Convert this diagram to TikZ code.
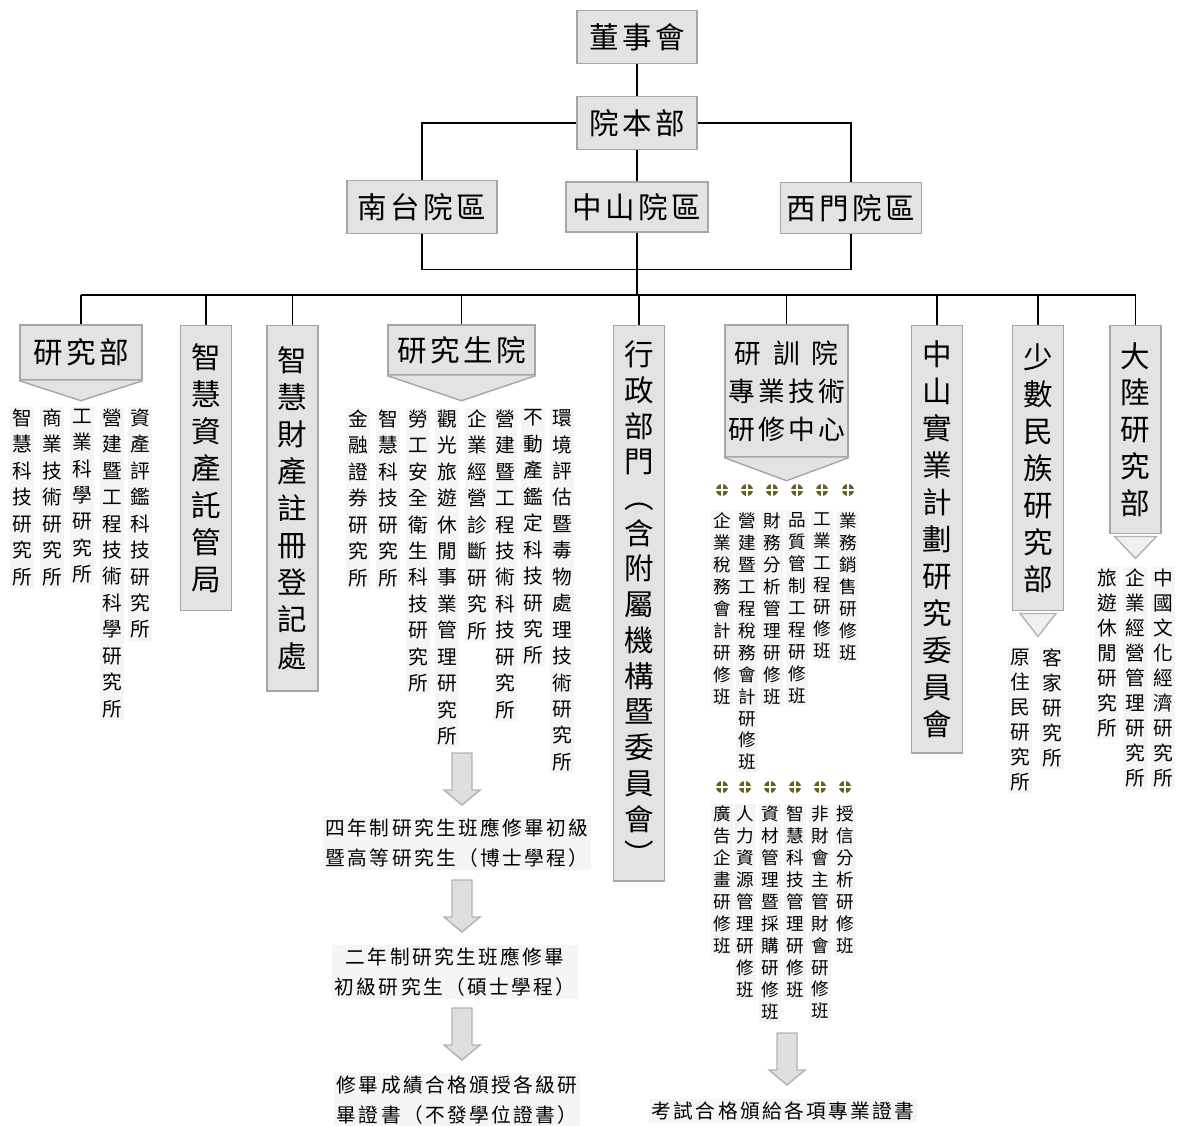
\documentclass[tikz,border=0pt]{standalone}
\usepackage{fontspec}
\setmainfont{Noto Sans CJK TC}[LetterSpace=12]
\usepackage{tikz}
\usetikzlibrary{calc}
\makeatletter
\newcommand\vtext[1]{\vt@first#1\relax}
\def\vt@first#1{#1\vt@next}
\def\vt@next#1{\ifx#1\relax\else\\#1\expandafter\vt@next\fi}
\makeatother
\newcommand{\grayarrow}[3]{\filldraw[garrow] (#1-10,#2) -- (#1+10,#2) -- (#1+10,#3-15) -- (#1+18,#3-15) -- (#1,#3) -- (#1-18,#3-15) -- (#1-10,#3-15) -- cycle;}
\tikzstyle{hbox} = [draw=gray!70, fill=gray!22, inner sep=0pt, font=\fontsize{21}{27}\selectfont]
\tikzstyle{vbox} = [draw=gray!70, fill=gray!22, inner sep=0pt, anchor=north, minimum width=1.27cm, align=center, font=\fontsize{21}{26.3}\selectfont]
\tikzstyle{col} = [fill=gray!8, inner sep=1.5pt, anchor=north, align=center, font=\fontsize{14}{18.8}\selectfont]
\tikzstyle{scol} = [col, font=\fontsize{12.5}{15.6}\selectfont]
\tikzstyle{mcol} = [col, font=\fontsize{14}{17.8}\selectfont]
\tikzstyle{flow} = [fill=gray!8, inner sep=2pt, align=center, font=\fontsize{14}{21}\selectfont]
\tikzstyle{chev} = [draw=gray!70, fill=gray!22]
\tikzstyle{tri} = [draw=gray!60, fill=gray!12]
\tikzstyle{garrow} = [draw=gray!60, fill=gray!25]
\tikzstyle{bullet} = [circle, fill=olive!65!black, inner sep=0pt, minimum size=0.3cm, path picture={\draw[white, line width=0.8pt] (path picture bounding box.north) -- (path picture bounding box.south) (path picture bounding box.west) -- (path picture bounding box.east);}]
\begin{document}
\begin{tikzpicture}[x=0.025cm, y=-0.025cm, line width=1pt]
\useasboundingbox (0,0) rectangle (1179,1126);
\node[hbox, minimum width=3cm, minimum height=1.33cm] (dsh) at (637,37) {董事會};
\node[hbox, minimum width=3cm, minimum height=1.33cm] (ybb) at (637,123) {院本部};
\node[hbox, minimum width=3.75cm, minimum height=1.33cm] (nt) at (422,207) {南台院區};
\node[hbox, minimum width=3.55cm, minimum height=1.25cm] (zs) at (637,207) {中山院區};
\node[hbox, minimum width=3.53cm, minimum height=1.28cm] (xm) at (851,208) {西門院區};
\draw (dsh) -- (ybb);
\draw (ybb) -- (zs);
\draw (ybb) -| (nt);
\draw (ybb) -| (xm);
\draw (nt.south) -- ++(0,35) -| (xm.south);

\node[hbox, minimum width=3.05cm, minimum height=1.375cm] (yjb) at (81,352.5) {研究部};
\filldraw[chev] (yjb.south west) -- ($(yjb.south)+(0,20)$) -- (yjb.south east);
\node[vbox, minimum height=7.125cm] (zhzc) at (206,325) {\vtext{智慧資產託管局}};
\node[vbox, minimum height=9.125cm] (zhcc) at (292.5,325) {\vtext{智慧財產註冊登記處}};
\node[hbox, minimum width=3.675cm, minimum height=1.25cm] (yjsy) at (461.5,350) {研究生院};
\filldraw[chev] (yjsy.south west) -- ($(yjsy.south)+(0,25)$) -- (yjsy.south east);
\node[vbox, minimum height=13.875cm, font=\fontsize{21}{25.4}\selectfont] (xz) at (639,325) {\vtext{行政部門︵含附屬機構暨委員會︶}};
\node[hbox, minimum width=3.075cm, minimum height=3.3cm, align=center, font=\fontsize{19}{27}\selectfont] (yxy) at (786.5,391) {\makebox[3.9em]{研\hfill 訓\hfill 院}\\專業技術\\研修中心};
\filldraw[chev] (yxy.south west) -- ($(yxy.south)+(0,23)$) -- (yxy.south east);
\node[vbox, minimum height=10.675cm] (zssy) at (937,325) {\vtext{中山實業計劃研究委員會}};
\node[vbox, minimum height=7.125cm] (ssmz) at (1038,325) {\vtext{少數民族研究部}};
\filldraw[tri] ($(ssmz.south)+(-18,2)$) -- ($(ssmz.south)+(18,2)$) -- ($(ssmz.south)+(0,25)$) -- cycle;
\node[vbox, minimum height=5.2cm] (dl) at (1135.5,325) {\vtext{大陸研究部}};
\filldraw[tri] ($(dl.south)+(-21,2)$) -- ($(dl.south)+(21,2)$) -- ($(dl.south)+(0,24)$) -- cycle;

\coordinate (bus) at (637,295);
\draw (zs.south) -- (zs.south |- bus);
\draw (yjb.north |- bus) -- (dl.north |- bus);
\foreach \n in {yjb,zhzc,zhcc,yjsy,xz,yxy,zssy,ssmz,dl}
  \draw (\n.north) -- (\n.north |- bus);

\node[col] (yjb1) at (140,406) {\vtext{資產評鑑科技研究所}};
\node[col] (yjb2) at (112,406) {\vtext{營建暨工程技術科學研究所}};
\node[col] (yjb3) at (82,406) {\vtext{工業科學研究所}};
\node[col] (yjb4) at (52,406) {\vtext{商業技術研究所}};
\node[col] (yjb5) at (22,406) {\vtext{智慧科技研究所}};

\node[col] (yjs1) at (562,407) {\vtext{環境評估暨毒物處理技術研究所}};
\node[col] (yjs2) at (533,407) {\vtext{不動產鑑定科技研究所}};
\node[col] (yjs3) at (505,407) {\vtext{營建暨工程技術科技研究所}};
\node[col] (yjs4) at (477,407) {\vtext{企業經營診斷研究所}};
\node[col] (yjs5) at (447,407) {\vtext{觀光旅遊休閒事業管理研究所}};
\node[col] (yjs6) at (418,407) {\vtext{勞工安全衛生科技研究所}};
\node[col] (yjs7) at (388,407) {\vtext{智慧科技研究所}};
\node[col] (yjs8) at (358,407) {\vtext{金融證券研究所}};

\foreach \x in {722,747,772,797,822,848}
  \node[bullet] (ba\x) at (\x,490) {};
\node[scol] (yx1) at (848,510) {\vtext{業務銷售研修班}};
\node[scol] (yx2) at (822,510) {\vtext{工業工程研修班}};
\node[scol] (yx3) at (797,510) {\vtext{品質管制工程研修班}};
\node[scol] (yx4) at (772,510) {\vtext{財務分析管理研修班}};
\node[scol] (yx5) at (747,510) {\vtext{營建暨工程稅務會計研修班}};
\node[scol] (yx6) at (722,510) {\vtext{企業稅務會計研修班}};
\foreach \x in {722,745,770,795,820,845}
  \node[bullet] (bb\x) at (\x,787) {};
\node[scol] (yx7) at (845,803) {\vtext{授信分析研修班}};
\node[scol] (yx8) at (820,803) {\vtext{非財會主管財會研修班}};
\node[scol] (yx9) at (795,803) {\vtext{智慧科技管理研修班}};
\node[scol] (yx10) at (770,803) {\vtext{資材管理暨採購研修班}};
\node[scol] (yx11) at (745,803) {\vtext{人力資源管理研修班}};
\node[scol] (yx12) at (722,803) {\vtext{廣告企畫研修班}};

\node[mcol] (ss1) at (1052,646) {\vtext{客家研究所}};
\node[mcol] (ss2) at (1020,646) {\vtext{原住民研究所}};
\node[mcol] (dl1) at (1163,566) {\vtext{中國文化經濟研究所}};
\node[mcol] (dl2) at (1135,566) {\vtext{企業經營管理研究所}};
\node[mcol] (dl3) at (1107,566) {\vtext{旅遊休閒研究所}};

\grayarrow{462}{753}{805}
\node[flow] (f1) at (457,843) {四年制研究生班應修畢初級\\暨高等研究生（博士學程）};
\grayarrow{462}{880}{932}
\node[flow] (f2) at (455,972) {二年制研究生班應修畢\\初級研究生（碩士學程）};
\grayarrow{462}{1008}{1060}
\node[flow] (f3) at (457,1100) {修畢成績合格頒授各級研\\畢證書（不發學位證書）};
\grayarrow{787}{1033}{1085}
\node[flow] (f4) at (783,1111) {考試合格頒給各項專業證書};
\end{tikzpicture}
\end{document}
